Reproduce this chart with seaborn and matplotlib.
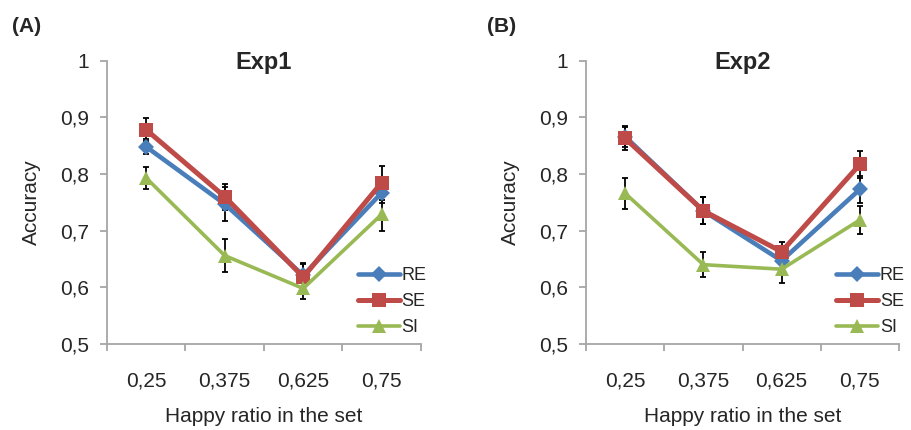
import matplotlib.pyplot as plt
import numpy as np
import pandas as pd
import seaborn as sns

# Happy ratio categories (x axis)
ratios = ['0,25', '0,375', '0,625', '0,75']
conds = ['RE', 'SE', 'SI']

# Exp1 mean accuracy and error bars
exp1_re = [0.848, 0.747, 0.621, 0.767]
exp1_se = [0.878, 0.760, 0.618, 0.785]
exp1_si = [0.793, 0.656, 0.598, 0.729]
exp1_re_err = [0.013, 0.030, 0.020, 0.018]
exp1_se_err = [0.020, 0.023, 0.025, 0.030]
exp1_si_err = [0.020, 0.029, 0.018, 0.030]

# Exp2 mean accuracy and error bars
exp2_re = [0.866, 0.735, 0.647, 0.773]
exp2_se = [0.863, 0.735, 0.663, 0.817]
exp2_si = [0.766, 0.640, 0.632, 0.719]
exp2_re_err = [0.018, 0.024, 0.017, 0.024]
exp2_se_err = [0.020, 0.024, 0.017, 0.024]
exp2_si_err = [0.027, 0.022, 0.025, 0.024]

yticks = [0.5, 0.6, 0.7, 0.8, 0.9, 1.0]
ytick_labels = ['0,5', '0,6', '0,7', '0,8', '0,9', '1']

sns.set_style('ticks')
plt.rcParams['font.family'] = ['Liberation Sans', 'DejaVu Sans']

colors = {'RE': '#4A7EBB', 'SE': '#BE4B48', 'SI': '#98B954'}
markers = {'RE': 'D', 'SE': 's', 'SI': '^'}
msizes = {'RE': 8, 'SE': 10, 'SI': 10}
lwidths = {'RE': 3.3, 'SE': 3.6, 'SI': 2.6}
grey = '#A6A6A6'


def make_df(re, se, si, re_err, se_err, si_err):
    rows = []
    for c, m, e in zip(conds, [re, se, si], [re_err, se_err, si_err]):
        for i, r in enumerate(ratios):
            rows.append({'pos': i, 'ratio': r, 'cond': c, 'acc': m[i], 'err': e[i]})
    return pd.DataFrame(rows)


df1 = make_df(exp1_re, exp1_se, exp1_si, exp1_re_err, exp1_se_err, exp1_si_err)
df2 = make_df(exp2_re, exp2_se, exp2_si, exp2_re_err, exp2_se_err, exp2_si_err)

fig = plt.figure(figsize=(9.12, 4.3), dpi=100)
ax1 = fig.add_axes([107 / 912, 0.2, 314 / 912, 283.3 / 430])
ax2 = fig.add_axes([586 / 912, 0.2, 313 / 912, 283.3 / 430])

for ax, df, title in [(ax1, df1, 'Exp1'), (ax2, df2, 'Exp2')]:
    for c in conds:
        d = df[df['cond'] == c]
        ax.errorbar(d['pos'], d['acc'], yerr=d['err'], fmt='none',
                    ecolor='black', elinewidth=1.3, capsize=2.5,
                    capthick=1.3, zorder=1)
    for c in conds:
        d = df[df['cond'] == c]
        sns.lineplot(data=d, x='pos', y='acc', ax=ax, color=colors[c],
                     marker=markers[c], markersize=msizes[c],
                     markeredgewidth=0, linewidth=lwidths[c], label=c,
                     zorder=2)

    ax.set_xlim(-0.5, 3.5)
    ax.set_xticks([-0.5, 0.5, 1.5, 2.5, 3.5])
    ax.set_xticklabels([])
    ax.set_xticks(range(len(ratios)), minor=True)
    ax.set_xticklabels(ratios, minor=True)
    ax.tick_params(axis='x', which='major', length=5, width=1.3, color=grey)
    ax.tick_params(axis='x', which='minor', length=0, pad=20, labelsize=15)

    ax.set_ylim(0.5, 1.0)
    ax.set_yticks(yticks)
    ax.set_yticklabels(ytick_labels)
    ax.tick_params(axis='y', length=5, width=1.3, color=grey, pad=8,
                   labelsize=15)

    for s in ['top', 'right']:
        ax.spines[s].set_visible(False)
    for s in ['left', 'bottom']:
        ax.spines[s].set_color(grey)
        ax.spines[s].set_linewidth(1.3)

    ax.set_xlabel('Happy ratio in the set', fontsize=15, labelpad=12)
    ax.set_ylabel('Accuracy', fontsize=15, labelpad=14)
    ax.text(0.5, 0.97, title, transform=ax.transAxes, ha='center',
            va='baseline', fontsize=17, fontweight='bold')

    ax.legend(frameon=False, loc='center left', bbox_to_anchor=(0.80, 0.15),
              handlelength=2.3, handletextpad=0.1, labelspacing=0.5,
              fontsize=13, borderaxespad=0, borderpad=0)

fig.text(12 / 912, 1 - 27 / 430, '(A)', fontsize=15, fontweight='bold',
         va='center', ha='left')
fig.text(487 / 912, 1 - 27 / 430, '(B)', fontsize=15, fontweight='bold',
         va='center', ha='left')

fig.savefig('out.png', dpi=100)
